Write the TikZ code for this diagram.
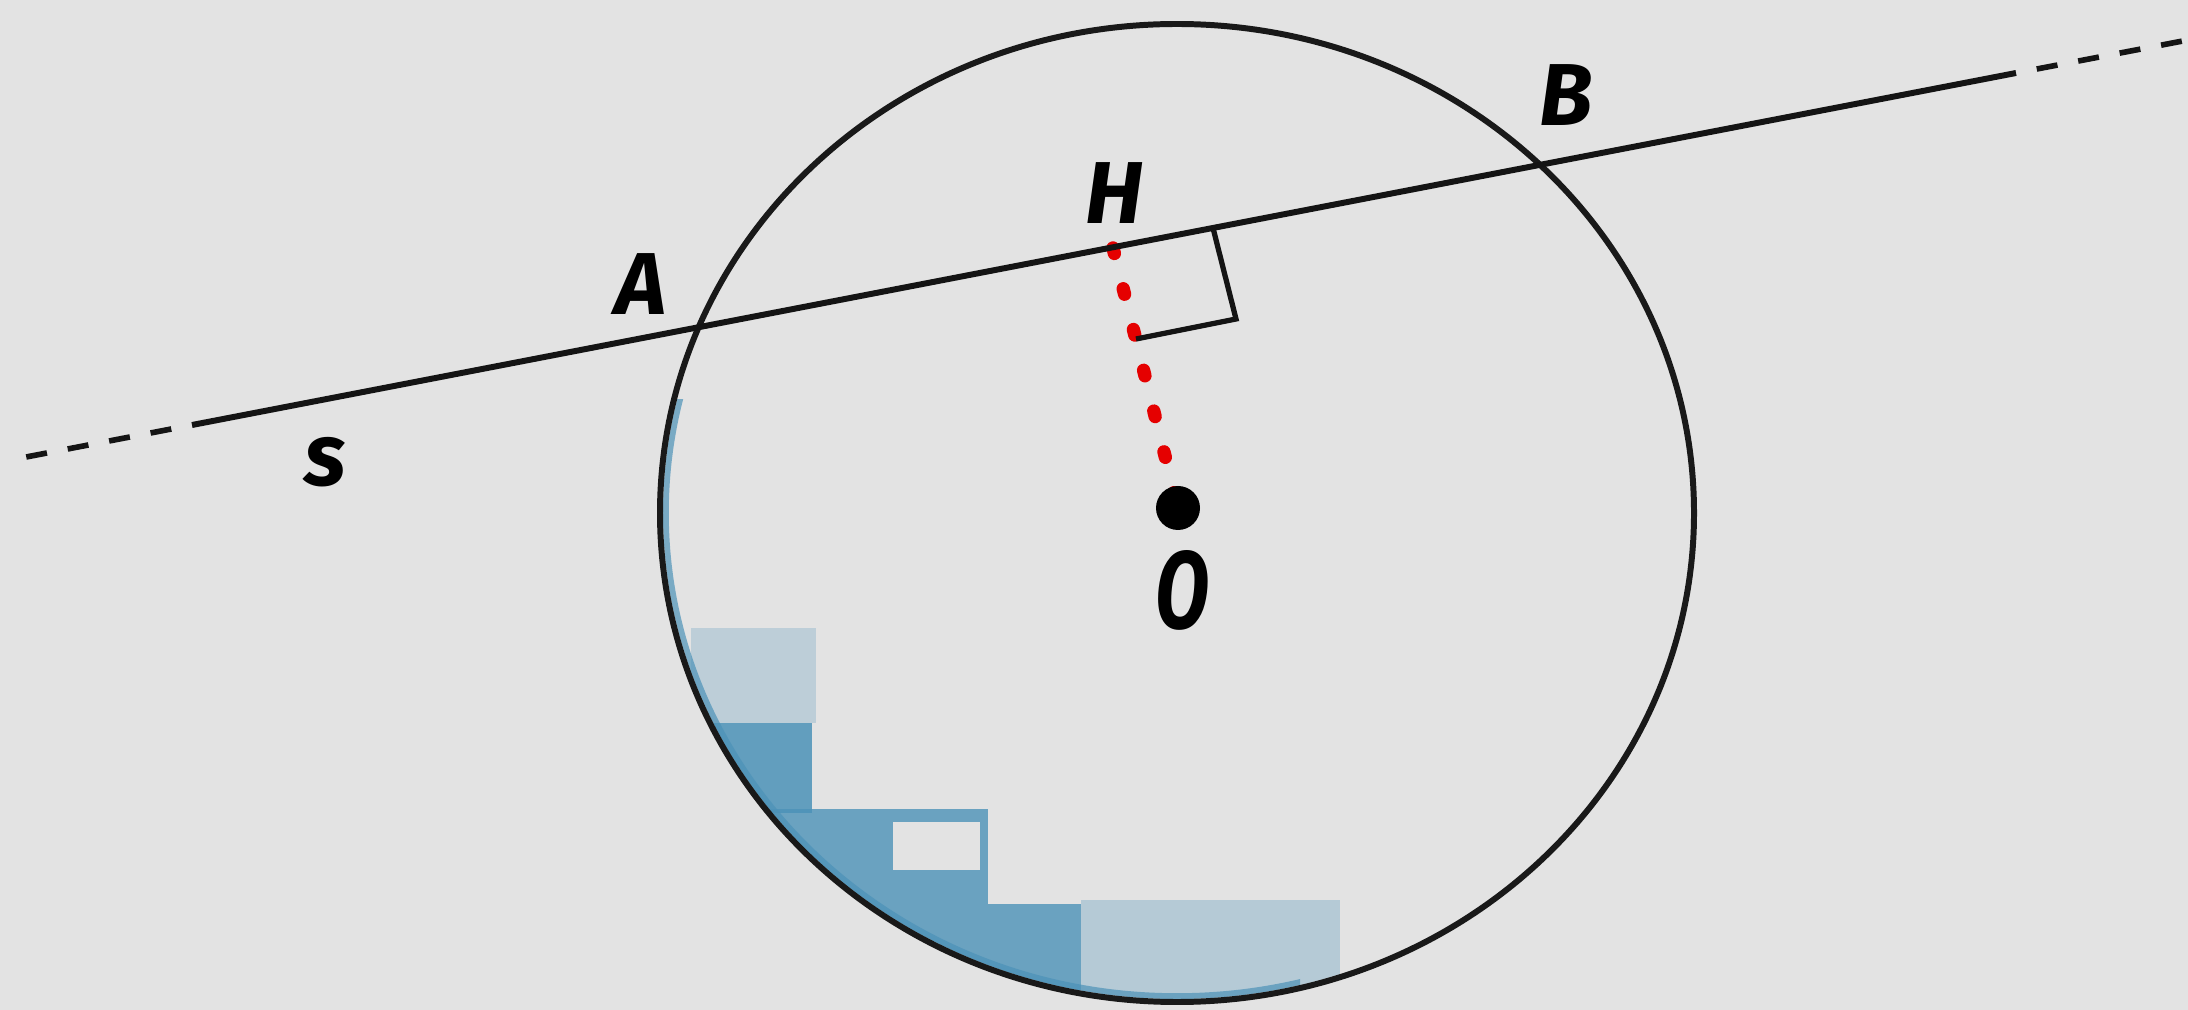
\documentclass[tikz,border=0pt]{standalone}
\usepackage{fontspec}
\setmainfont{Fira Sans}
\begin{document}
\begin{tikzpicture}[x=0.01cm,y=-0.01cm,
  ink/.style={draw=black!92, line width=1.7pt},
  rim/.style={draw=black!90, line width=1.7pt},
  ext/.style={draw=black!92, line width=1.6pt, dash pattern=on 6pt off 6pt, dash phase=6pt},
  reddots/.style={draw=red!90!black, line width=3.8pt, line cap=round, dash pattern=on 1.6pt off 10.35pt},
  anglemark/.style={draw=black!92, line width=1.5pt},
  lab/.style={font=\fontsize{25}{30}\selectfont\bfseries\itshape, text=black, inner sep=0pt},
  patch/.style={fill=blue!35!cyan!60!black!70, fill opacity=#1},
]
\useasboundingbox (0,0) rectangle (2188,1010);
\fill[gray!22] (0,0) rectangle (2188,1010);

% circle centre and points
\coordinate (C) at (1177,513);
\coordinate (O) at (1178,508);
\coordinate (H) at (1113,248);
\coordinate (A) at (687,330);
\coordinate (B) at (1532,167);
\coordinate (L0) at (21,458);
\coordinate (Ls) at (192,425);
\coordinate (Le) at (2016,73);
\coordinate (L1) at (2188,40);
\coordinate (R1) at (1213,228);
\coordinate (R2) at (1236,319);
\coordinate (R3) at (1136,339);

% scan artefacts inside the circle
\begin{scope}
  \clip (C) ellipse [x radius=514, y radius=486];
  \fill[patch=0.25] (691,628) rectangle (816,723);
  \fill[patch=0.85] (640,723) rectangle (812,813);
  \fill[patch=0.8] (640,809) rectangle (988,904);
  \fill[gray!22] (893,822) rectangle (980,870);
  \fill[patch=0.8] (700,904) rectangle (1081,1010);
  \fill[patch=0.3] (1081,900) rectangle (1340,1010);
  \begin{scope}
    \clip (600,400) rectangle (1300,1010);
    \draw[draw=blue!35!cyan!60!black!70, line width=5pt, opacity=0.7] (C) ellipse [x radius=517, y radius=489];
  \end{scope}
\end{scope}

% circle
\draw[rim] (C) ellipse [x radius=517, y radius=489];

% perpendicular OH
\draw[reddots] (H) -- (O);

% line s
\draw[ink] (Ls) -- (Le);
\draw[ext] (Ls) -- (L0);
\draw[ext] (Le) -- (L1);

% right angle mark
\draw[anglemark] (R1) -- (R2) -- (R3);

% centre
\fill[black] (O) circle [radius=22];

% labels
\node[lab] (labA) at (641,284) {A};
\node[lab] (labH) at (1114,193) {H};
\node[lab] (labB) at (1566,95) {B};
\node[lab, xscale=0.9, yscale=1.25] (labO) at (1182,590) {O};
\node[lab] (labs) at (325,462) {s};
\end{tikzpicture}
\end{document}
